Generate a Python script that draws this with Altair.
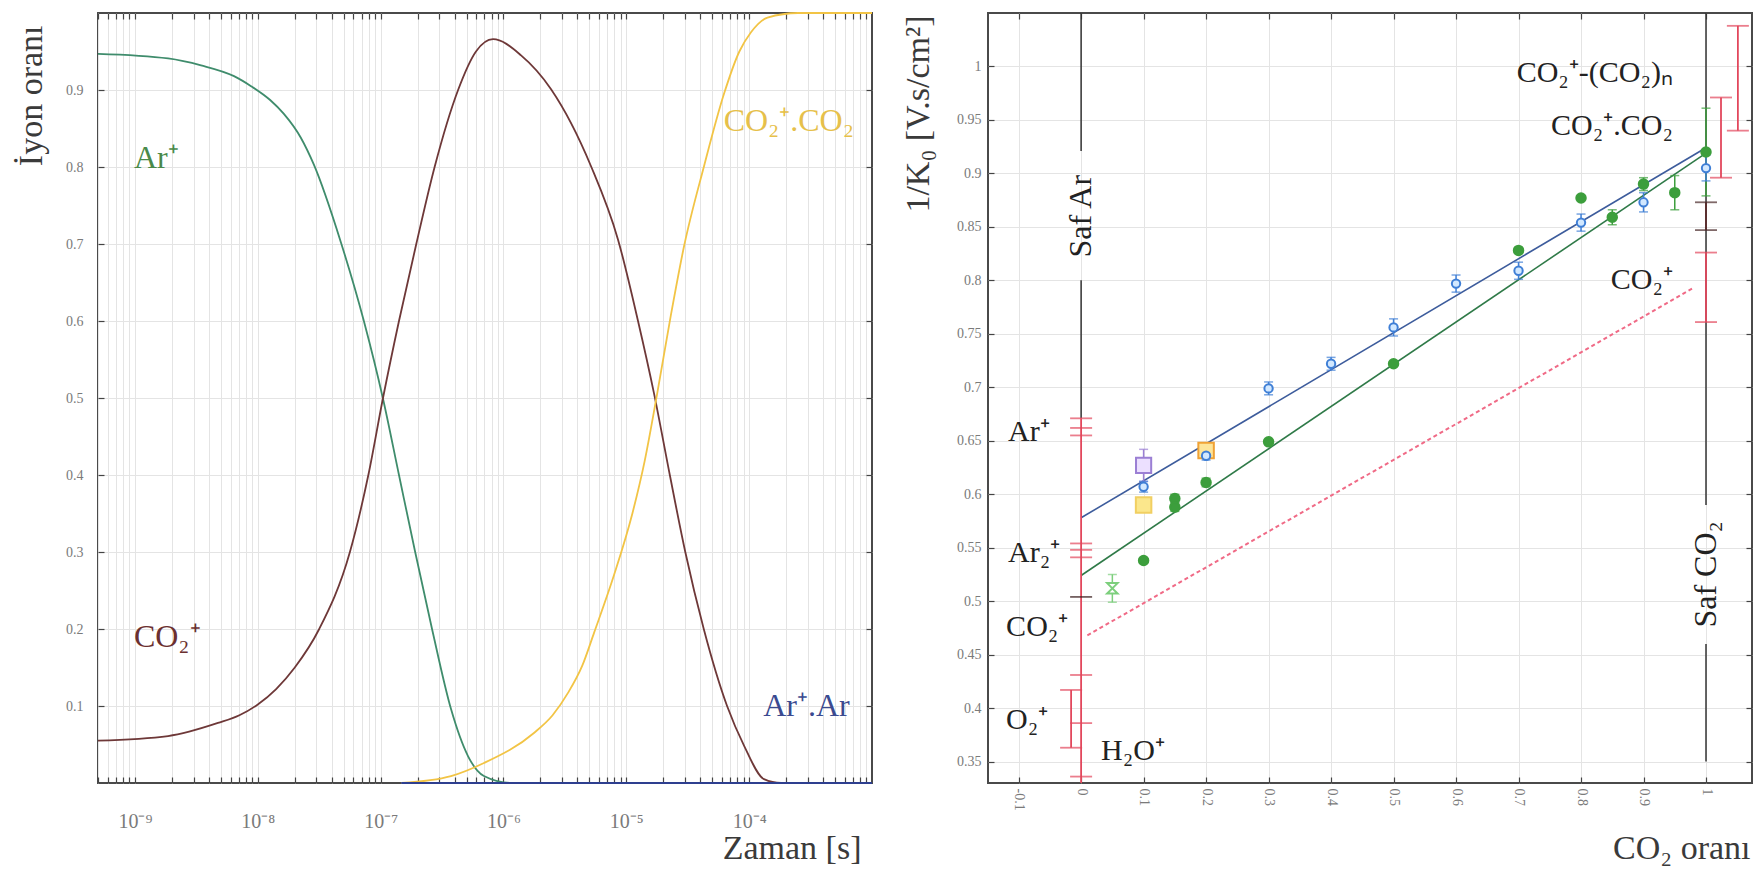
import altair as alt
import pandas as pd

FONT = "Liberation Serif"

# ---------------- Left panel: ion fractions vs time ----------------
ar_t = [5.0e-10, 1.86e-9, 3.45e-9, 6.4e-9, 8.81e-9, 1.26e-8, 1.63e-8, 2.24e-8, 2.86e-8,
        4.75e-8, 7.3e-8, 1.045e-7, 1.41e-7, 1.91e-7, 2.62e-7, 3.74e-7, 5.14e-7, 6.93e-7,
        1.15e-6, 1.0e-3]
ar_v = [0.947, 0.941, 0.932, 0.918, 0.905, 0.887, 0.869, 0.838, 0.803,
        0.702, 0.600, 0.499, 0.400, 0.300, 0.200, 0.096, 0.035, 0.009,
        0.0, 0.0]

co2_t = [5.0e-10, 1.86e-9, 4.74e-9, 7.08e-9, 1.0e-8, 1.41e-8, 2.0e-8, 3.16e-8, 5.62e-8,
         7.94e-8, 1.045e-7, 1.41e-7, 1.95e-7, 2.75e-7, 4.27e-7, 5.97e-7, 8.22e-7, 1.39e-6,
         2.44e-6, 5.16e-6, 8.55e-6, 1.245e-5, 1.68e-5, 2.26e-5, 3.02e-5, 4.27e-5, 6.61e-5,
         9.12e-5, 1.32e-4, 1.82e-4, 1.0e-3]
co2_v = [0.055, 0.061, 0.078, 0.088, 0.102, 0.122, 0.150, 0.200, 0.300,
         0.400, 0.500, 0.600, 0.700, 0.800, 0.900, 0.950, 0.966, 0.945,
         0.901, 0.801, 0.706, 0.600, 0.506, 0.400, 0.300, 0.200, 0.100,
         0.048, 0.005, 0.0, 0.0]

dimer_t = [1.47e-7, 3.74e-7, 6.93e-7, 1.77e-6, 2.51e-6, 3.35e-6, 4.37e-6, 5.46e-6, 7.94e-6,
           1.12e-5, 1.41e-5, 1.78e-5, 2.29e-5, 2.95e-5, 4.29e-5, 6.24e-5, 8.32e-5,
           1.035e-4, 1.41e-4, 2.51e-4, 1.0e-3]
dimer_v = [0.0, 0.009, 0.026, 0.065, 0.088, 0.117, 0.152, 0.195, 0.270,
           0.350, 0.418, 0.505, 0.605, 0.697, 0.801, 0.895, 0.950,
           0.975, 0.994, 1.0, 1.0]

arar_t = [1.47e-7, 1.0e-3]
arar_v = [0.0, 0.0]

curve_names = ["Ar+", "CO2+", "CO2+.CO2", "Ar+.Ar"]
curve_colors = ["#3f8c6c", "#6e3838", "#f2c445", "#2e3f8f"]

left_label_text = ["Ar⁺", "CO₂⁺", "CO₂⁺.CO₂", "Ar⁺.Ar"]
left_label_t = [9.8e-10, 9.8e-10, 6.2e-5, 1.3e-4]
left_label_v = [0.812, 0.19, 0.86, 0.10]
left_label_colors = ["#4a8a4a", "#6b3030", "#e6c04a", "#3a4a90"]

time_decades = [-9, -8, -7, -6, -5, -4]
time_decade_labels = ["10⁻⁹", "10⁻⁸", "10⁻⁷", "10⁻⁶", "10⁻⁵", "10⁻⁴"]
time_minor_ticks = [m * 10.0 ** d for d in range(-10, -3) for m in range(1, 10)
                    if 5e-10 <= m * 10.0 ** d < 1e-3]
frac_ticks = [0.1, 0.2, 0.3, 0.4, 0.5, 0.6, 0.7, 0.8, 0.9]

# ---------------- Right panel: 1/K0 vs CO2 fraction ----------------
blue_x = [0.1, 0.2, 0.3, 0.4, 0.5, 0.6, 0.7, 0.8, 0.9, 1.0]
blue_y = [0.607, 0.636, 0.699, 0.722, 0.756, 0.797, 0.809, 0.854, 0.873, 0.905]
blue_err = [0.005, 0.004, 0.006, 0.006, 0.008, 0.008, 0.008, 0.008, 0.009, 0.012]

green_x = [0.1, 0.15, 0.15, 0.2, 0.3, 0.5, 0.7, 0.8, 0.85, 0.9, 0.95, 1.0]
green_y = [0.538, 0.596, 0.588, 0.611, 0.649, 0.722, 0.828, 0.877, 0.859, 0.890, 0.882, 0.920]
green_err = [0.0, 0.004, 0.004, 0.004, 0.0, 0.0, 0.0, 0.0, 0.007, 0.006, 0.016, 0.041]

other_names = ["hourglass", "purple", "yellow", "orange"]
other_x = [0.05, 0.1, 0.1, 0.2]
other_y = [0.512, 0.627, 0.590, 0.641]
other_err = [0.013, 0.015, 0.0, 0.005]
other_stroke = ["#7ccf7c", "#9b7fd4", "#f1cf62", "#f0a235"]
other_fill = ["#ffffff", "#ece0ff", "#fbe78c", "#fde59a"]
other_shape = ["M-1,-1L1,-1L-1,1L1,1Z", "square", "square", "square"]
other_size = [110, 230, 240, 240]

fit_names = ["blue", "green"]
fit_x0 = [0.0, 0.0]
fit_y0 = [0.578, 0.524]
fit_x1 = [1.0, 1.0]
fit_y1 = [0.924, 0.919]
fit_colors = ["#3d5c9c", "#2f7a48"]

dotted_x = [0.01, 0.98]
dotted_y = [0.468, 0.793]

guide_x = [0.0, 0.0, 1.0, 1.0]
guide_lo = [0.921, 0.80, 0.59, 0.35]
guide_hi = [1.05, 0.671, 1.05, 0.46]

ref_bar_x = [0.0, -0.016, 1.0, 1.0, 1.024, 1.051]
ref_bar_lo = [0.33, 0.363, 0.761, 0.847, 0.896, 0.940]
ref_bar_hi = [0.671, 0.417, 0.826, 0.873, 0.971, 1.038]
ref_bar_color = ["#e2475c", "#e2475c", "#e2475c", "#5a2a2a", "#e2475c", "#e2475c"]

ref_cap_x = [0, 0, 0, 0, 0, 0, 0, 0, 0, 0, -0.016, -0.016, 1, 1, 1, 1, 1.024, 1.024, 1.051, 1.051]
ref_cap_y = [0.671, 0.662, 0.655, 0.554, 0.548, 0.541, 0.504, 0.431, 0.386, 0.336,
             0.417, 0.363, 0.826, 0.761, 0.873, 0.847, 0.971, 0.896, 1.038, 0.940]
ref_cap_color = ["#e2475c"] * 6 + ["#3a2020"] + ["#e2475c"] * 7 + ["#4a2a2a"] * 2 + ["#e2475c"] * 4

right_left_text = ["Ar⁺", "Ar₂⁺", "CO₂⁺", "O₂⁺", "H₂O⁺"]
right_left_x = [-0.117, -0.117, -0.12, -0.12, 0.032]
right_left_y = [0.658, 0.545, 0.476, 0.389, 0.36]
right_right_text = ["CO₂⁺-(CO₂)ₙ", "CO₂⁺.CO₂", "CO₂⁺"]
right_right_x = [0.947, 0.947, 0.947]
right_right_y = [0.994, 0.944, 0.80]

pure_text = ["Saf Ar", "Saf CO₂"]
pure_x = [0.0, 1.0]
pure_y = [0.86, 0.525]

ratio_ticks = [-0.1, 0.0, 0.1, 0.2, 0.3, 0.4, 0.5, 0.6, 0.7, 0.8, 0.9, 1.0]
ratio_tick_labels = ["-0.1", "0", "0.1", "0.2", "0.3", "0.4", "0.5", "0.6", "0.7", "0.8", "0.9", "1"]
k_ticks = [0.35, 0.4, 0.45, 0.5, 0.55, 0.6, 0.65, 0.7, 0.75, 0.8, 0.85, 0.9, 0.95, 1.0]

# ---------------- frames ----------------
curves = pd.concat([
    pd.DataFrame({"t": tt, "v": vv, "s": n, "c": c})
    for tt, vv, n, c in zip([ar_t, co2_t, dimer_t, arar_t], [ar_v, co2_v, dimer_v, arar_v],
                            curve_names, curve_colors)
], ignore_index=True)
left_labels = pd.DataFrame({"t": left_label_t, "v": left_label_v, "txt": left_label_text,
                            "c": left_label_colors})

expr = "''"
for d, lab in reversed(list(zip(time_decades, time_decade_labels))):
    expr = f"abs(log(datum.value)/LN10 - ({d})) < 0.001 ? '{lab}' : ({expr})"

rexpr = "''"
for v, lab in reversed(list(zip(ratio_ticks, ratio_tick_labels))):
    rexpr = f"abs(datum.value - ({v})) < 0.0001 ? '{lab}' : ({rexpr})"

LW, LH = 774, 770
RW, RH = 764, 770

xscaleL = alt.Scale(type="log", domain=[5e-10, 1e-3], nice=False)
yscaleL = alt.Scale(domain=[0, 1], nice=False)
xL = alt.X("t:Q", scale=xscaleL,
           axis=alt.Axis(values=time_minor_ticks, labelExpr=expr, labelOverlap=False,
                         labelFontSize=20, labelPadding=28, offset=-6, tickSize=6,
                         labelFlush=False,
                         title="Zaman [s]", titleFontSize=34, titleX=763, titleY=81,
                         titleAlign="right", titleBaseline="alphabetic"))
yL = alt.Y("v:Q", scale=yscaleL,
           axis=alt.Axis(values=frac_ticks, format=".1f", labelFontSize=14, labelPadding=15,
                         offset=-6, tickSize=6,
                         title="İyon oranı", titleFontSize=34, titleAngle=270, titleX=-90,
                         titleY=12, titleAlign="right", titleBaseline="top"))
xLt = alt.X("t:Q", scale=xscaleL,
            axis=alt.Axis(orient="top", values=time_minor_ticks, labels=False, grid=False,
                          offset=-6, tickSize=6, title=""))
yLr = alt.Y("v:Q", scale=yscaleL,
            axis=alt.Axis(orient="right", values=frac_ticks, labels=False, grid=False,
                          offset=-6, tickSize=6, title=""))

left_lines = alt.Chart(curves).mark_line(strokeWidth=1.8, interpolate="monotone").encode(
    x=xL, y=yL, color=alt.Color("c:N", scale=None), detail="s:N")
left_text = alt.Chart(left_labels).mark_text(font=FONT, fontSize=32, align="left",
                                              baseline="middle").encode(
    x=xLt, y=yLr, text="txt:N", color=alt.Color("c:N", scale=None))
left = alt.layer(left_lines, left_text).resolve_axis(
    x="independent", y="independent").properties(width=LW, height=LH)

xscaleR = alt.Scale(domain=[-0.149, 1.0736], nice=False, zero=False)
yscaleR = alt.Scale(domain=[0.33, 1.05], nice=False, zero=False)
xR = alt.X("x:Q", scale=xscaleR,
           axis=alt.Axis(values=ratio_ticks, labelExpr=rexpr, labelAngle=90, labelFontSize=14,
                         labelPadding=5, offset=-6, tickSize=6, labelOverlap=False,
                         title="CO₂ oranı", titleFontSize=34, titleX=762, titleY=81,
                         titleAlign="right", titleBaseline="alphabetic"))
yR = alt.Y("y:Q", scale=yscaleR,
           axis=alt.Axis(values=k_ticks, format=".2~f", labelFontSize=14, labelPadding=7,
                         offset=-6, tickSize=6, labelOverlap=False,
                         title="1/K₀ [V.s/cm²]", titleFontSize=34, titleAngle=270, titleX=-93,
                         titleY=2, titleAlign="right", titleBaseline="top"))
xRt = alt.X("x:Q", scale=xscaleR,
            axis=alt.Axis(orient="top", values=ratio_ticks, labels=False, grid=False,
                          offset=-6, tickSize=6, title=""))
yRr = alt.Y("y:Q", scale=yscaleR,
            axis=alt.Axis(orient="right", values=k_ticks, labels=False, grid=False,
                          offset=-6, tickSize=6, title=""))

guides = pd.DataFrame({"x": guide_x, "y": guide_lo, "y2": guide_hi})
ref_bars = pd.DataFrame({"x": ref_bar_x, "y": ref_bar_lo, "y2": ref_bar_hi, "c": ref_bar_color})
ref_caps = pd.DataFrame({"x": ref_cap_x, "y": ref_cap_y, "c": ref_cap_color})

fits = pd.DataFrame({"x": fit_x0 + fit_x1, "y": fit_y0 + fit_y1, "s": fit_names * 2,
                     "c": fit_colors * 2})
dotted = pd.DataFrame({"x": dotted_x, "y": dotted_y})

pts = pd.concat([
    pd.DataFrame({"x": other_x, "y": other_y, "e": other_err, "st": other_stroke,
                  "fi": other_fill, "sh": other_shape, "sz": other_size}),
    pd.DataFrame({"x": green_x, "y": green_y, "e": green_err, "st": "#3c9e3c",
                  "fi": "#3c9e3c", "sh": "circle", "sz": 90}),
    pd.DataFrame({"x": blue_x, "y": blue_y, "e": blue_err, "st": "#3f7fd6",
                  "fi": "#d2e8ff", "sh": "circle", "sz": 70}),
], ignore_index=True)
pts["lo"] = pts["y"] - pts["e"]
pts["hi"] = pts["y"] + pts["e"]
errs = pts[pts["e"] > 0]

rl_text = pd.DataFrame({"x": right_left_x, "y": right_left_y, "txt": right_left_text})
rr_text = pd.DataFrame({"x": right_right_x, "y": right_right_y, "txt": right_right_text})
pure = pd.DataFrame({"x": pure_x, "y": pure_y, "txt": pure_text})

r_guides = alt.Chart(guides).mark_rule(strokeWidth=1.5, color="#333333").encode(
    x=xR, y=yR, y2="y2:Q")
r_bars = alt.Chart(ref_bars).mark_rule(strokeWidth=1.8).encode(
    x=xR, y=yR, y2="y2:Q", color=alt.Color("c:N", scale=None))
r_caps = alt.Chart(ref_caps).mark_tick(orient="horizontal", size=22, thickness=1.8).encode(
    x=xR, y=yR, color=alt.Color("c:N", scale=None))
r_dotted = alt.Chart(dotted).mark_line(strokeWidth=2, strokeDash=[4, 3],
                                       color="#f06a86").encode(x=xR, y=yR)
r_fits = alt.Chart(fits).mark_line(strokeWidth=1.6).encode(
    x=xR, y=yR, detail="s:N", color=alt.Color("c:N", scale=None))
r_err = alt.Chart(errs).mark_rule(strokeWidth=1.5).encode(
    x=xR, y=alt.Y("lo:Q", scale=yscaleR), y2="hi:Q", color=alt.Color("st:N", scale=None))
r_err_lo = alt.Chart(errs).mark_tick(orient="horizontal", size=9, thickness=1.5).encode(
    x=xR, y=alt.Y("lo:Q", scale=yscaleR), color=alt.Color("st:N", scale=None))
r_err_hi = alt.Chart(errs).mark_tick(orient="horizontal", size=9, thickness=1.5).encode(
    x=xR, y=alt.Y("hi:Q", scale=yscaleR), color=alt.Color("st:N", scale=None))
r_pts = alt.Chart(pts).mark_point(strokeWidth=2, opacity=1, fillOpacity=1).encode(
    x=xR, y=yR, shape=alt.Shape("sh:N", scale=None), size=alt.Size("sz:Q", scale=None),
    stroke=alt.Stroke("st:N", scale=None), fill=alt.Fill("fi:N", scale=None))
r_tl = alt.Chart(rl_text).mark_text(font=FONT, fontSize=30, align="left", baseline="middle",
                                    color="#222222").encode(x=xR, y=yR, text="txt:N")
r_tr = alt.Chart(rr_text).mark_text(font=FONT, fontSize=30, align="right", baseline="middle",
                                    color="#222222").encode(x=xR, y=yR, text="txt:N")
r_pure = alt.Chart(pure).mark_text(font=FONT, fontSize=32, angle=270, align="center",
                                   baseline="middle", color="#222222").encode(
    x=xRt, y=yRr, text="txt:N")

right_main = alt.layer(r_guides, r_dotted, r_fits, r_bars, r_caps, r_err, r_err_lo, r_err_hi,
                       r_pts, r_tl, r_tr)
right = alt.layer(right_main, r_pure).resolve_axis(
    x="independent", y="independent").properties(width=RW, height=RH)

chart = alt.hconcat(left, right, spacing=116, bounds="flush").properties(
    padding={"left": 5, "top": 0, "right": 0, "bottom": 0}
).configure_view(stroke="#4a4a4a", strokeWidth=2).configure_axis(
    labelFont=FONT, titleFont=FONT, labelColor="#7a7a7a", titleColor="#3a3a3a",
    titleFontWeight="normal", gridColor="#e4e4e4", gridWidth=1, tickColor="#444444",
    tickWidth=1.2, domain=False)

chart.save("out.html", embed_options={"renderer": "svg", "actions": False})
